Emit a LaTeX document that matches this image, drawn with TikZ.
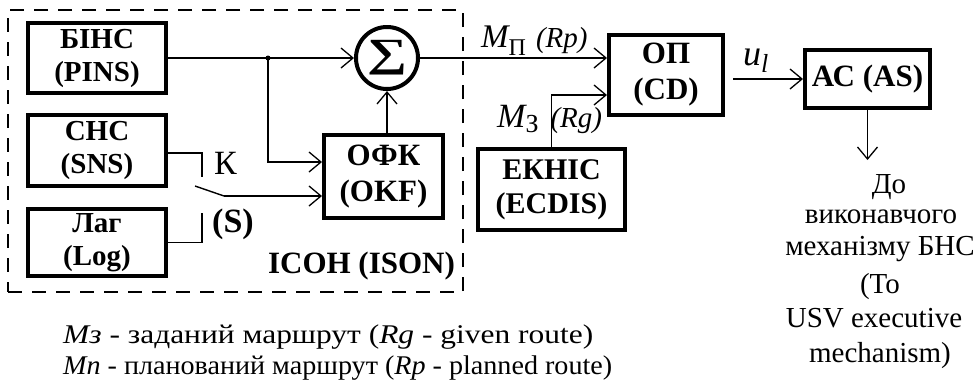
\documentclass[tikz,border=0pt]{standalone}
\usepackage{amsmath}
\usepackage{graphicx}
\usepackage{fontspec}
\setmainfont{Liberation Serif}
\usetikzlibrary{arrows.meta}
\tikzset{
  blk/.style={draw, line width=4pt, inner sep=0pt, align=center,
    font=\fontsize{29}{33}\selectfont\bfseries},
  blkbig/.style={blk, font=\fontsize{31}{36}\selectfont\bfseries},
  ln/.style={line width=1.4pt},
  arr/.style={ln, -{Straight Barb[length=12pt,width=20pt,line width=1.3pt]}},
  isonbox/.style={draw, dash pattern=on 14pt off 10pt, line width=1.5pt, inner sep=0pt},
  rtext/.style={anchor=base, inner sep=0pt, font=\fontsize{29}{29}\selectfont},
  legend/.style={anchor=base west, inner sep=0pt, font=\fontsize{27}{27}\selectfont},
}
\begin{document}
\begin{tikzpicture}[x=1pt,y=-1pt]
\useasboundingbox (0,0) rectangle (980,384);

% dashed ISON frame
\node[isonbox, minimum width=455pt, minimum height=282pt] (ison) at (235.5,151) {};

% blocks
\node[blk, minimum width=138pt, minimum height=70pt] (bins) at (97,58) {БІНС\\(PINS)};
\node[blk, minimum width=138pt, minimum height=71pt] (sns) at (97,150.5) {СНС\\(SNS)};
\node[blk, minimum width=138pt, minimum height=67pt] (lag) at (97,242.5) {Лаг\\(Log)};
\node[blkbig, minimum width=119pt, minimum height=83pt] (okf) at (383.5,176.5) {ОФК\\(OKF)};
\node[blkbig, minimum width=114pt, minimum height=80pt] (op) at (666,75) {ОП\\(CD)};
\node[blk, font=\fontsize{30}{34}\selectfont\bfseries, minimum width=147pt, minimum height=81pt] (ecdis) at (551.5,189.5) {ЕКНІС\\(ECDIS)};
\node[blkbig, minimum width=125pt, minimum height=58pt] (as) at (867.5,79) {АС (AS)};
\node[draw, circle, line width=4pt, minimum size=62pt, inner sep=0pt] (sum) at (387,58)
  {\scalebox{1.4}[1]{\fontsize{40}{40}\selectfont\bfseries ∑}};

% helper coordinates
\coordinate (j) at (268,58);
\coordinate (kTop) at (202,177);
\coordinate (kBot) at (202,213);
\coordinate (bladeA) at (195,186);
\coordinate (bladeB) at (224,196);
\coordinate (uStart) at (733,79);

% connectors
\draw[arr] (bins.east) -- (sum.west);
\fill (j) circle (2.5pt);
\draw[arr] (j) |- ([yshift=14.5pt]okf.west);
\draw[arr] (sum.south |- okf.north) -- (sum.south);
\draw[arr] (sum.east) -- (sum.east -| op.west);
\draw[ln] ([yshift=-2.5pt]sns.east) -| (kTop);
\draw[ln] (lag.east) -| (kBot);
\draw[ln] (bladeA) -- (bladeB);
\draw[arr] (bladeB) -- (bladeB -| okf.west);
\draw[arr] (ecdis.north) |- ([yshift=-20pt]op.west);
\draw[arr] (uStart) -- (as.west);
\draw[arr] (as.south) -- ([yshift=-50pt]as.south);

% labels
\node[font=\fontsize{34}{34}\selectfont] (klab) at (225.5,163.5) {К};
\node[font=\fontsize{34}{34}\selectfont\bfseries] (slab) at (233,224) {(S)};
\node[font=\fontsize{31}{31}\selectfont\bfseries] (isonlab) at (361.5,266) {ІСОН (ISON)};
\node[anchor=base west, inner sep=0pt] (mp) at (481,47)
  {\fontsize{33}{33}\selectfont\itshape M\raisebox{-8pt}{\fontsize{24}{24}\selectfont\upshape П}\hspace{10pt}\fontsize{29}{29}\selectfont(Rp)};
\node[anchor=base west, inner sep=0pt] (mz) at (497,127)
  {\fontsize{34}{34}\selectfont\itshape M\raisebox{-5pt}{\fontsize{26}{26}\selectfont\upshape З}\hspace{12pt}\fontsize{29}{29}\selectfont(Rg)};
\node[anchor=base west, inner sep=0pt] (ul) at (743,65)
  {\fontsize{36}{36}\selectfont\itshape u\raisebox{-7pt}{\fontsize{26}{26}\selectfont l}};

% destination text
\node[rtext] (t1) at (889,193) {До};
\node[rtext] (t2) at (881,223) {виконавчого};
\node[rtext] (t3) at (880,255) {механізму БНС};
\node[rtext] (t4) at (880,293) {(To};
\node[rtext] (t5) at (874,327) {USV executive};
\node[rtext] (t6) at (880,362) {mechanism)};

% legend
\node[legend] (lg1) at (63,343) {\resizebox{530pt}{\height}{{\itshape Мз} - заданий маршрут ({\itshape Rg} - given route)}};
\node[legend] (lg2) at (63,374) {\resizebox{549pt}{\height}{{\itshape Мп} - планований маршрут ({\itshape Rp} - planned route)}};
\end{tikzpicture}
\end{document}
